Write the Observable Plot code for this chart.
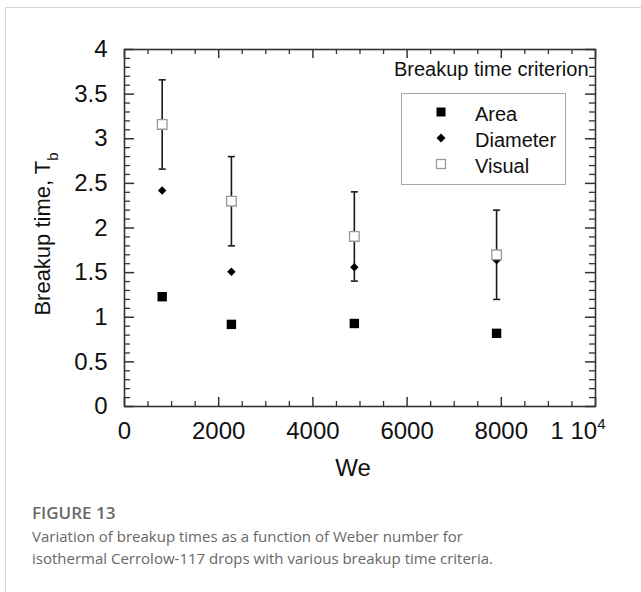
<!DOCTYPE html>
<html>
<head>
<meta charset="utf-8">
<script src="https://cdn.jsdelivr.net/npm/d3@7"></script>
<script src="https://cdn.jsdelivr.net/npm/@observablehq/plot@0.6"></script>
<style>
  html, body { margin: 0; padding: 0; background: #fff; width: 641px; height: 592px; overflow: hidden; }
  #card { position: absolute; left: 5px; top: 7px; width: 650px; height: 600px; border-left: 1px solid #d4d4d4; border-top: 1px solid #d4d4d4; }
  #chart { position: absolute; left: 0; top: 0; }
  #legend { position: absolute; left: 401px; top: 93px; width: 163px; height: 90px; border: 1px solid #a8a8a8; background: #fff; font-family: "Liberation Sans", Arial, sans-serif; font-size: 20px; color: #111; }
  #legtitle { position: absolute; left: 394px; top: 58px; font-family: "Liberation Sans", Arial, sans-serif; font-size: 20px; color: #111; white-space: nowrap; }
  .lrow { position: absolute; left: 0; height: 24px; line-height: 24px; }
  .lrow svg { position: absolute; left: 33px; top: 4px; }
  .lrow span { position: absolute; left: 73px; top: 0; white-space: nowrap; }
  #caption { position: absolute; left: 32px; top: 501px; font-family: "Open Sans", "Noto Sans", sans-serif; color: #686868; }
  #caption .fig { font-weight: 600; font-size: 17px; line-height: 24px; }
  #caption .txt { font-size: 15px; line-height: 22px; }
</style>
</head>
<body>
<div id="card"></div>
<div id="chart"></div>
<div id="legtitle"></div>
<div id="legend"></div>
<div id="caption"></div>
<script>
// ---- data ----
const weber = [800, 2270, 4880, 7900];
const areaT = [1.23, 0.92, 0.93, 0.82];
const diameterT = [2.42, 1.51, 1.56, 1.64];
const visualT = [3.16, 2.30, 1.905, 1.70];
const visualErr = [0.5, 0.5, 0.5, 0.5];
const xTickValues = [0, 2000, 4000, 6000, 8000];
const xLastTick = [10000];
const xLastLabel = ["1 10"];
const xLastExp = "4";
const yTickValues = [0, 0.5, 1, 1.5, 2, 2.5, 3, 3.5, 4];
const xLabel = "We";
const yLabel = "Breakup time, T";
const yLabelSub = "b";
const legendTitle = "Breakup time criterion";
const legendNames = ["Area", "Diameter", "Visual"];
const figTitle = "FIGURE 13";
const figCaption = ["Variation of breakup times as a function of Weber number for",
                    "isothermal Cerrolow-117 drops with various breakup time criteria."];

const rows = weber.map((w, i) => ({we: w, area: areaT[i], diam: diameterT[i], vis: visualT[i], err: visualErr[i]}));

const W = 641, H = 490, mL = 124, mR = 46, mT = 49, mB = 84;
const innerW = W - mL - mR, innerH = H - mT - mB;
const xMajor = d3.range(0, 10001, 2000);
const xMinor = d3.range(0, 10001, 500).filter(d => d % 2000 !== 0);
const yMajor = d3.range(0, 4.01, 0.5);
const yMinor = d3.range(0, 4.001, 0.1).filter(d => Math.abs(d * 2 - Math.round(d * 2)) > 1e-6);
const tickCol = "#333";
const FS = 24;

const cap = { draw(ctx) { ctx.moveTo(-3.5, 0); ctx.lineTo(3.5, 0); } };

const svg = Plot.plot({
  width: W, height: H,
  marginLeft: mL, marginRight: mR, marginTop: mT, marginBottom: mB,
  x: { domain: [0, 10000] },
  y: { domain: [0, 4] },
  style: { fontFamily: "'Liberation Sans', Arial, sans-serif", fontSize: FS + "px", color: "#111", background: "transparent" },
  marks: [
    Plot.tickX(xMajor, { x: d => d, insetTop: innerH - 9, stroke: tickCol, strokeWidth: 1.5 }),
    Plot.tickX(xMajor, { x: d => d, insetBottom: innerH - 9, stroke: tickCol, strokeWidth: 1.5 }),
    Plot.tickX(xMinor, { x: d => d, insetTop: innerH - 5, stroke: tickCol, strokeWidth: 1.3 }),
    Plot.tickX(xMinor, { x: d => d, insetBottom: innerH - 5, stroke: tickCol, strokeWidth: 1.3 }),
    Plot.tickY(yMajor, { y: d => d, insetRight: innerW - 10, stroke: tickCol, strokeWidth: 1.5 }),
    Plot.tickY(yMajor, { y: d => d, insetLeft: innerW - 10, stroke: tickCol, strokeWidth: 1.5 }),
    Plot.tickY(yMinor, { y: d => d, insetRight: innerW - 6, stroke: tickCol, strokeWidth: 1.3 }),
    Plot.tickY(yMinor, { y: d => d, insetLeft: innerW - 6, stroke: tickCol, strokeWidth: 1.3 }),
    Plot.frame({ stroke: tickCol, strokeWidth: 1.6 }),
    Plot.axisX(xTickValues, { anchor: "bottom", tickSize: 0, tickPadding: 15, fontSize: FS, label: null, tickFormat: d => String(d) }),
    Plot.text(xLastTick, { x: d => d, frameAnchor: "bottom", textAnchor: "end", lineAnchor: "top", dx: 10, dy: 15, text: (d, i) => xLastLabel[i], fontSize: FS }),
    Plot.axisY(yTickValues, { anchor: "left", tickSize: 0, tickPadding: 17, fontSize: FS, label: null, tickFormat: d => String(d) }),
    Plot.text([xLabel], { frameAnchor: "bottom", textAnchor: "middle", lineAnchor: "middle", dx: -7, dy: 62, fontSize: FS }),
    Plot.text([yLabel], { frameAnchor: "left", textAnchor: "middle", lineAnchor: "middle", rotate: -90, dx: -82, dy: 6, fontSize: 22 }),
    Plot.ruleX(rows, { x: "we", y1: d => d.vis - d.err, y2: d => d.vis + d.err, stroke: "#1a1a1a", strokeWidth: 1.6 }),
    Plot.dot(rows, { x: "we", y: d => d.vis + d.err, symbol: cap, stroke: "#1a1a1a", strokeWidth: 1.6, fill: "none" }),
    Plot.dot(rows, { x: "we", y: d => d.vis - d.err, symbol: cap, stroke: "#1a1a1a", strokeWidth: 1.6, fill: "none" }),
    Plot.dot(rows, { x: "we", y: "diam", symbol: "diamond2", r: 3.8, fill: "#000", stroke: "none" }),
    Plot.dot(rows, { x: "we", y: "area", symbol: "square", r: 5.3, fill: "#000", stroke: "none" }),
    Plot.dot(rows, { x: "we", y: "vis", symbol: "square", r: 5.4, fill: "#fff", stroke: "#9a9a9a", strokeWidth: 1.3 })
  ]
});

svg.querySelectorAll("text").forEach(t => {
  if (t.textContent === yLabel) {
    const ts = document.createElementNS("http://www.w3.org/2000/svg", "tspan");
    ts.setAttribute("dy", "8"); ts.setAttribute("font-size", "15"); ts.textContent = yLabelSub;
    t.appendChild(ts);
  } else if (t.textContent === xLastLabel[0]) {
    const ts = document.createElementNS("http://www.w3.org/2000/svg", "tspan");
    ts.setAttribute("dy", "-10"); ts.setAttribute("font-size", "15"); ts.textContent = xLastExp;
    t.appendChild(ts);
  }
});
document.getElementById("chart").appendChild(svg);

document.getElementById("legtitle").textContent = legendTitle;
const leg = document.getElementById("legend");
const legSym = [
  '<svg width="12" height="12"><rect x="1.5" y="1.5" width="9" height="9" fill="#000"/></svg>',
  '<svg width="12" height="12"><path d="M6 1.5 L10.5 6 L6 10.5 L1.5 6 Z" fill="#000"/></svg>',
  '<svg width="12" height="12"><rect x="1.5" y="1.5" width="9" height="9" fill="#fff" stroke="#9a9a9a" stroke-width="1.3"/></svg>'
];
const rowTops = [8, 34, 60];
legendNames.forEach((n, i) => {
  const r = document.createElement("div");
  r.className = "lrow";
  r.style.top = rowTops[i] + "px";
  r.innerHTML = legSym[i] + "<span>" + n + "</span>";
  leg.appendChild(r);
});

const cap2 = document.getElementById("caption");
cap2.innerHTML = '<div class="fig">' + figTitle + '</div>' + figCaption.map(l => '<div class="txt">' + l + '</div>').join("");
</script>
</body>
</html>
